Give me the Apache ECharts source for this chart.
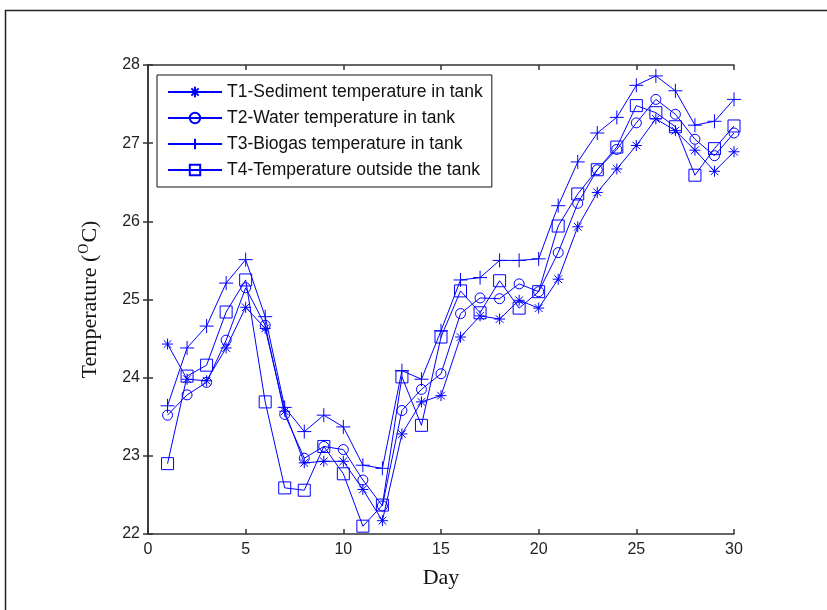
<!DOCTYPE html>
<html>
<head>
<meta charset="utf-8">
<script src="https://cdn.jsdelivr.net/npm/echarts@6/dist/echarts.min.js"></script>
<style>html,body{margin:0;padding:0;background:#fff;}#c{width:827px;height:610px;}</style>
</head>
<body>
<div id="c"></div>
<script>
const days = [1,2,3,4,5,6,7,8,9,10,11,12,13,14,15,16,17,18,19,20,21,22,23,24,25,26,27,28,29,30];
const t1 = [24.43,23.98,23.96,24.38,24.90,24.63,23.57,22.91,22.93,22.93,22.57,22.17,23.28,23.69,23.77,24.52,24.79,24.75,24.99,24.89,25.26,25.93,26.37,26.67,26.97,27.31,27.16,26.91,26.64,26.89];
const t2 = [23.52,23.78,23.94,24.48,25.15,24.67,23.53,22.97,23.12,23.08,22.69,22.36,23.58,23.85,24.05,24.82,25.02,25.01,25.20,25.10,25.60,26.23,26.66,26.92,27.26,27.56,27.37,27.05,26.84,27.13];
const t3 = [23.64,24.38,24.66,25.21,25.51,24.78,23.62,23.31,23.52,23.37,22.88,22.84,24.09,23.98,24.60,25.25,25.28,25.50,25.50,25.52,26.20,26.76,27.13,27.33,27.74,27.86,27.67,27.23,27.28,27.56];
const t4 = [22.90,24.02,24.16,24.84,25.25,23.69,22.59,22.56,23.12,22.77,22.10,22.37,24.01,23.39,24.52,25.11,24.83,25.24,24.89,25.10,25.94,26.35,26.66,26.95,27.48,27.39,27.21,26.59,26.93,27.22];
const names = ['T1-Sediment temperature in tank','T2-Water temperature in tank','T3-Biogas temperature in tank','T4-Temperature outside the tank'];
const xTicks = [0,5,10,15,20,25,30];
const yTicks = [22,23,24,25,26,27,28];

const BLUE = '#0000ff';
const STAR = 'path://M0,-1L0,1M-1,0L1,0M-0.7,-0.7L0.7,0.7M-0.7,0.7L0.7,-0.7';
const PLUS = 'path://M0,-1L0,1M-1,0L1,0';
function mk(name, vals, symbol, size) {
  return {
    name: name, type: 'line', data: days.map((d, i) => [d, vals[i]]),
    symbol: symbol, symbolSize: size, showSymbol: true,
    lineStyle: { color: BLUE, width: 1 },
    itemStyle: { color: 'rgba(0,0,0,0)', borderColor: BLUE, borderWidth: 1 },
    emphasis: { disabled: true }, animation: false, z: 3
  };
}
const chart = echarts.init(document.getElementById('c'), null, { renderer: 'canvas' });
const axisCommon = {
  axisLine: { show: true, lineStyle: { color: '#333', width: 1.5 } },
  axisTick: { show: true, inside: true, length: 5, lineStyle: { color: '#333', width: 1.5 } },
  splitLine: { show: false }
};
chart.setOption({
  backgroundColor: '#fff',
  animation: false,
  graphic: [{
    type: 'rect', shape: { x: 5.5, y: 10.5, width: 900, height: 700 },
    style: { fill: 'none', stroke: '#222', lineWidth: 1.5 }, silent: true, z: -1
  }],
  grid: { left: 148, top: 65, right: 93, bottom: 76, containLabel: false },
  legend: {
    orient: 'vertical', left: 157, top: 75,
    data: names,
    backgroundColor: '#fff', borderColor: '#111', borderWidth: 1,
    padding: [8, 9, 8, 10], itemGap: 8, itemWidth: 54, itemHeight: 13,
    textStyle: { fontFamily: 'Liberation Sans', fontSize: 17.5, color: '#111', lineHeight: 17 },
    selectedMode: false
  },
  xAxis: [
    Object.assign({
      type: 'value', min: xTicks[0], max: xTicks[xTicks.length - 1], interval: 5, position: 'bottom',
      name: 'Day', nameLocation: 'middle', nameGap: 33,
      nameTextStyle: { fontFamily: 'Liberation Serif', fontSize: 22, color: '#111' },
      axisLabel: { fontFamily: 'Liberation Sans', fontSize: 16, color: '#222', margin: 8 }
    }, axisCommon),
    Object.assign({
      type: 'value', min: xTicks[0], max: xTicks[xTicks.length - 1], interval: 5, position: 'top',
      axisLabel: { show: false }
    }, axisCommon)
  ],
  yAxis: [
    Object.assign({
      type: 'value', min: yTicks[0], max: yTicks[yTicks.length - 1], interval: 1, position: 'left',
      name: '{n|Temperature (}{sup|O}{n|C)}', nameLocation: 'middle', nameGap: 45, nameRotate: 90,
      nameTextStyle: {
        fontFamily: 'Liberation Serif', fontSize: 22, color: '#111',
        rich: {
          n: { fontFamily: 'Liberation Serif', fontSize: 22, color: '#111' },
          sup: { fontFamily: 'Liberation Serif', fontSize: 14, color: '#111', padding: [0, 1, 12, 1] }
        }
      },
      axisLabel: { fontFamily: 'Liberation Sans', fontSize: 16, color: '#222', margin: 8 }
    }, axisCommon),
    Object.assign({
      type: 'value', min: yTicks[0], max: yTicks[yTicks.length - 1], interval: 1, position: 'right',
      axisLabel: { show: false }
    }, axisCommon)
  ],
  series: [
    mk(names[0], t1, STAR, 11),
    mk(names[1], t2, 'circle', 10),
    mk(names[2], t3, PLUS, 14),
    mk(names[3], t4, 'rect', 12)
  ]
});
</script>
</body>
</html>
